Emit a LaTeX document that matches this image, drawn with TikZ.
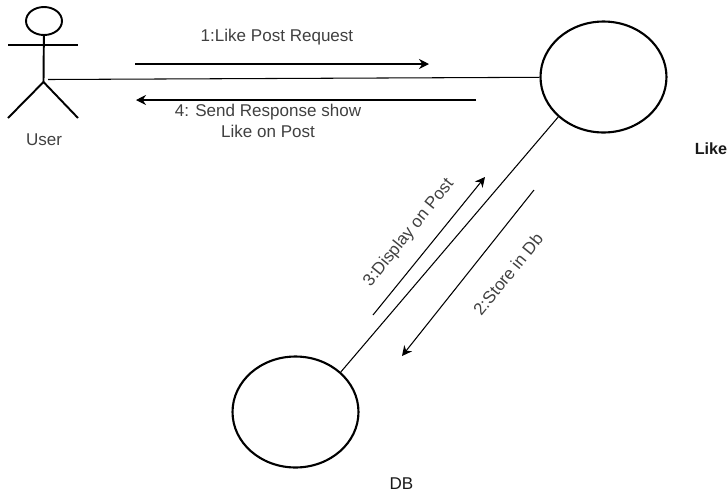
\documentclass[tikz,border=0pt]{standalone}
\usepackage{fontspec}
\setmainfont{Liberation Sans}
\usetikzlibrary{shapes.geometric, arrows.meta}

\begin{document}
\begin{tikzpicture}[x=0.02cm, y=-0.02cm]
\tikzset{noeud/.style={draw, ellipse, line width=1.2pt, minimum width=2.52cm, minimum height=2.22cm, inner sep=0pt}}
\tikzset{lien/.style={line width=0.6pt}}
\tikzset{fleche/.style={line width=0.6pt, -{Stealth[length=0.2cm, width=0.2cm]}}}
\tikzset{bras/.style={line width=1.1pt}}
\tikzset{texte/.style={font=\fontsize{9.7}{11.5}\selectfont, text=black!75, align=center, inner sep=0pt}}
\useasboundingbox (0, 0) rectangle (728, 498);
\node[noeud] (VLike) at (603.5, 77) {};
\node[noeud] (VDb) at (295.5, 412) {};
% acteur
\node[draw, ellipse, line width=1.1pt, minimum width=0.72cm, minimum height=0.56cm, inner sep=0pt] (VTete) at (44, 21) {};
\coordinate (VBassin) at (43.5, 82);
\coordinate (VMainG) at (8, 45);
\coordinate (VMainD) at (78, 45);
\coordinate (VPiedG) at (8, 118);
\coordinate (VPiedD) at (78, 118);
\coordinate (VTaille) at (48, 79.5);
\draw[bras] (VTete) -- (VBassin);
\draw[bras] (VMainG) -- (VMainD);
\draw[bras] (VPiedG) -- (VBassin) -- (VPiedD);
\node[texte] (LUser) at (44, 140) {User};
\draw[lien] (VTaille) -- (VLike);
\draw[lien] (VLike.south west) -- (VDb.north east);
% messages
\coordinate (M1a) at (135, 64);
\coordinate (M1b) at (429, 64);
\coordinate (M4a) at (476, 100);
\coordinate (M4b) at (136, 100);
\coordinate (M3a) at (373, 315);
\coordinate (M3b) at (485, 177);
\coordinate (M2a) at (534, 190);
\coordinate (M2b) at (402, 356);
\draw[fleche] (M1a) -- (M1b);
\draw[fleche] (M4a) -- (M4b);
\draw[fleche] (M3a) -- (M3b);
\draw[fleche] (M2a) -- (M2b);
\node[texte] (L1) at (277, 37) {1:Like Post Request};
\node[texte] (L4) at (268, 121) {4: Send Response show\\Like on Post};
\node[texte, rotate=51] (L3) at (409, 233) {3:Display on Post};
\node[texte, rotate=51] (L2) at (508, 274) {2:Store in Db};
\node[texte, text=black!90, font=\fontsize{9.2}{11.5}\selectfont\bfseries] (LLike) at (711, 149) {Like};
\node[texte, text=black!90] (LDb) at (401.5, 484) {DB};
\end{tikzpicture}
\end{document}
